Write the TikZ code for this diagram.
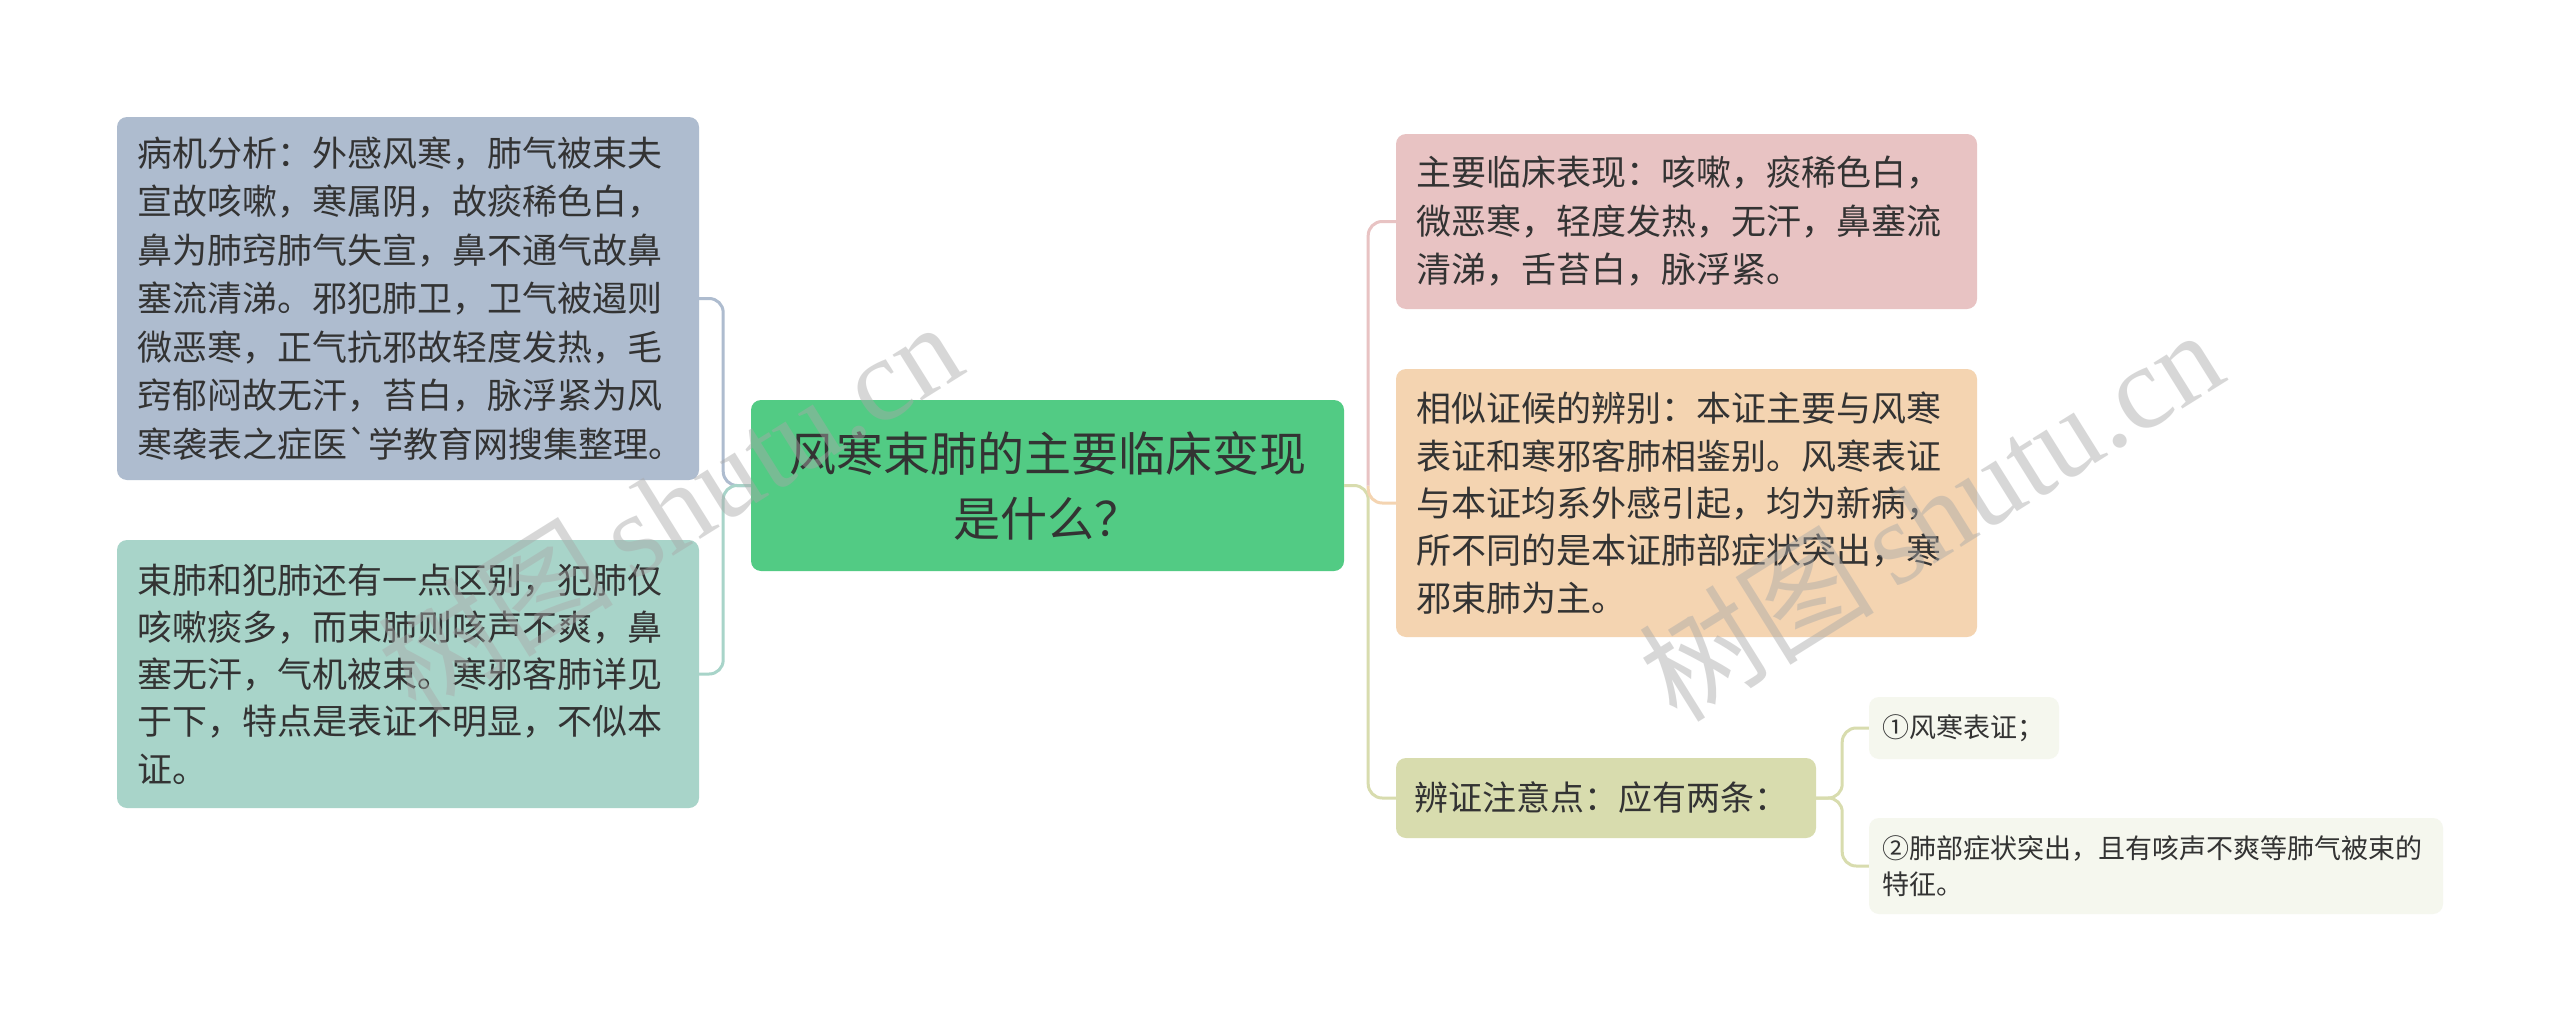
\documentclass[tikz,border=0pt]{standalone}
\usepackage{fontspec}
\setmainfont{Noto Sans CJK SC}[Ligatures=TeXOff]
\newfontfamily\wmfont{Liberation Serif}
\newfontfamily\wmcjk{Noto Sans CJK SC}
\definecolor{textc}{HTML}{333333}
\definecolor{fillA}{HTML}{AEBCCF}
\definecolor{fillB}{HTML}{A8D4C9}
\definecolor{fillC}{HTML}{52CB84}
\definecolor{fillR1}{HTML}{E8C3C3}
\definecolor{fillR2}{HTML}{F4D4B1}
\definecolor{fillR3}{HTML}{D8DCAE}
\definecolor{fillS}{HTML}{F5F7EE}
\definecolor{lineA}{HTML}{AEBCCF}
\definecolor{lineB}{HTML}{A8D4C9}
\definecolor{lineR1}{HTML}{E8C3C3}
\definecolor{lineR2}{HTML}{F4D4B1}
\definecolor{lineR3}{HTML}{D8DCAE}
\definecolor{wm}{HTML}{A8A8A8}
\tikzset{
  box/.style={rounded corners=10pt, inner ysep=0pt, align=left, text=textc, anchor=center},
  bigleaf/.style={box, inner xsep=20pt, font=\fontsize{35}{48.5}\selectfont},
  smallleaf/.style={box, inner xsep=13pt, font=\fontsize{27}{36}\selectfont},
  conn/.style={line width=3pt, rounded corners=14pt},
  wmark/.style={text=wm, opacity=0.45, rotate=32, anchor=center, font=\fontsize{118}{118}\selectfont}
}
\begin{document}
\begin{tikzpicture}[x=1pt,y=-1pt]
\useasboundingbox[fill=white] (0,0) rectangle (2560,1033);

% nodes
\node[bigleaf, fill=fillA, minimum width=582pt, minimum height=363pt, text width=542pt] (A) at (408,298.5)
 {病机分析：外感风寒，肺气被束夫\\宣故咳嗽，寒属阴，故痰稀色白，\\鼻为肺窍肺气失宣，鼻不通气故鼻\\塞流清涕。邪犯肺卫，卫气被遏则\\微恶寒，正气抗邪故轻度发热，毛\\窍郁闷故无汗，苔白，脉浮紧为风\\寒袭表之症医`学教育网搜集整理。};
\node[bigleaf, fill=fillB, minimum width=582pt, minimum height=268pt, text width=542pt, font=\fontsize{35}{47.3}\selectfont] (B) at (408,674)
 {束肺和犯肺还有一点区别，犯肺仅\\咳嗽痰多，而束肺则咳声不爽，鼻\\塞无汗，气机被束。寒邪客肺详见\\于下，特点是表证不明显，不似本\\证。};
\node[box, fill=fillC, minimum width=593pt, minimum height=171pt, text width=593pt, align=center, inner xsep=0pt, font=\fontsize{47}{65}\selectfont] (C) at (1047.5,485.5)
 {风寒束肺的主要临床变现\\是什么？};
\node[bigleaf, fill=fillR1, minimum width=581pt, minimum height=175pt, text width=541pt] (R1) at (1686.5,221.5)
 {主要临床表现：咳嗽，痰稀色白，\\微恶寒，轻度发热，无汗，鼻塞流\\清涕，舌苔白，脉浮紧。};
\node[bigleaf, fill=fillR2, minimum width=581pt, minimum height=268pt, text width=541pt, font=\fontsize{35}{47.3}\selectfont] (R2) at (1686.5,503)
 {相似证候的辨别：本证主要与风寒\\表证和寒邪客肺相鉴别。风寒表证\\与本证均系外感引起，均为新病，\\所不同的是本证肺部症状突出，寒\\邪束肺为主。};
\node[bigleaf, fill=fillR3, inner xsep=18pt, minimum width=420pt, minimum height=80pt, text width=384pt, font=\fontsize{34}{45}\selectfont] (R3) at (1606,798)
 {辨证注意点：应有两条：};
\node[smallleaf, fill=fillS, minimum width=190pt, minimum height=62pt, text width=164pt] (S1) at (1964,728)
 {①风寒表证；};
\node[smallleaf, fill=fillS, minimum width=574pt, minimum height=96pt, text width=548pt] (S2) at (2156,866)
 {②肺部症状突出，且有咳声不爽等肺气被束的\\特征。};

% connectors
\draw[conn, draw=lineA] (A.east) -- ++(24,0) |- (C.west);
\draw[conn, draw=lineB] (B.east) -- ++(24,0) |- (C.west);
\draw[conn, draw=lineR3] (C.east) -- ++(24,0) |- (R3.west);
\draw[conn, draw=lineR2] (C.east) ++(24,0) |- (R2.west);
\draw[conn, draw=lineR1] (C.east) ++(24,0) |- (R1.west);
\draw[conn, draw=lineR3] (R3.east) -- ++(26,0) |- (S1.west);
\draw[conn, draw=lineR3] (R3.east) -- ++(26,0) |- (S2.west);

% watermarks
\node[wmark] (W1) at (669,506) {\wmcjk 树图\,\wmfont shutu.cn};
\node[wmark] (W2) at (1930,514) {\wmcjk 树图\,\wmfont shutu.cn};
\end{tikzpicture}
\end{document}
